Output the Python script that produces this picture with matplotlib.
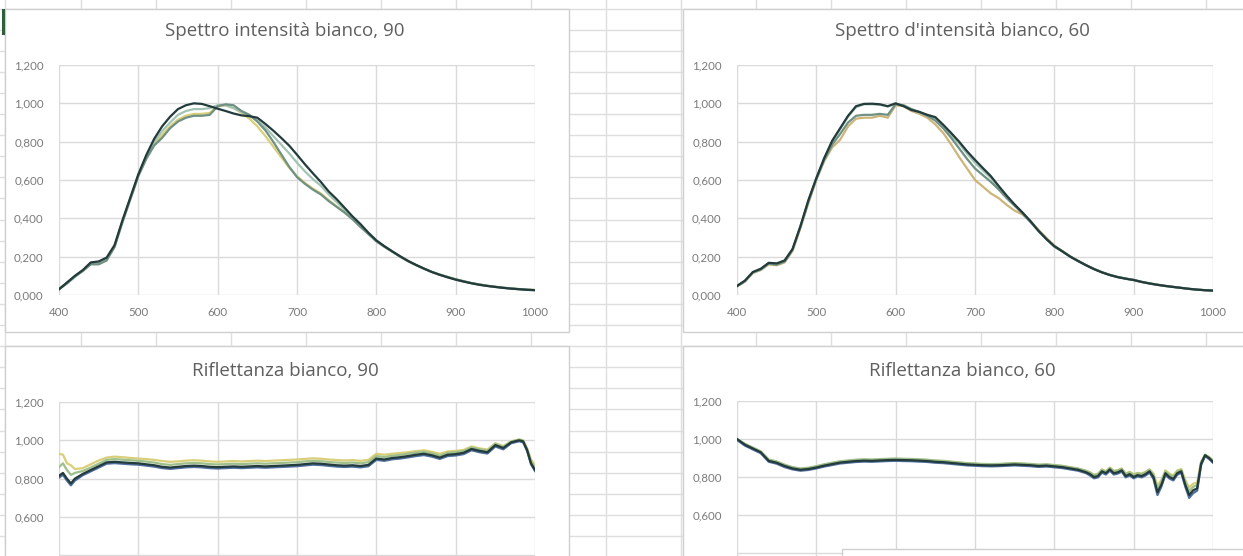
import matplotlib
matplotlib.use("Agg")
import matplotlib.pyplot as plt
from matplotlib.patches import Rectangle
from matplotlib.ticker import FuncFormatter

plt.rcParams['font.family'] = ['Lato', 'DejaVu Sans']

# ---------------- data ----------------
wl_int = list(range(400, 1001, 10))

# Spettro intensità bianco, 90
i90_dark = [0.030, 0.065, 0.100, 0.130, 0.170, 0.175, 0.195, 0.260, 0.390, 0.510,
            0.630, 0.730, 0.815, 0.880, 0.930, 0.970, 0.990, 1.000, 0.997, 0.985,
            0.972, 0.960, 0.947, 0.937, 0.933, 0.925, 0.893, 0.858, 0.820, 0.780,
            0.732, 0.682, 0.635, 0.590, 0.540, 0.500, 0.455, 0.410, 0.370, 0.325,
            0.285, 0.255, 0.228, 0.202, 0.178, 0.157, 0.138, 0.120, 0.105, 0.092,
            0.080, 0.070, 0.061, 0.053, 0.047, 0.042, 0.037, 0.033, 0.030, 0.027, 0.025]
i90_grey = [0.030, 0.060, 0.095, 0.125, 0.160, 0.160, 0.180, 0.250, 0.380, 0.500,
            0.620, 0.710, 0.780, 0.820, 0.870, 0.905, 0.925, 0.935, 0.935, 0.940,
            0.985, 0.995, 0.990, 0.960, 0.940, 0.905, 0.860, 0.800, 0.735, 0.670,
            0.615, 0.580, 0.550, 0.525, 0.490, 0.460, 0.430, 0.395, 0.355, 0.318,
            0.280, 0.252, 0.226, 0.200, 0.176, 0.156, 0.137, 0.120, 0.106, 0.094,
            0.082, 0.072, 0.062, 0.055, 0.048, 0.043, 0.038, 0.034, 0.031, 0.028, 0.026]
i90_yellow = [0.031, 0.062, 0.097, 0.127, 0.162, 0.163, 0.183, 0.252, 0.383, 0.503,
              0.622, 0.715, 0.790, 0.835, 0.880, 0.915, 0.935, 0.945, 0.945, 0.950,
              0.985, 0.990, 0.975, 0.950, 0.920, 0.880, 0.830, 0.775, 0.720, 0.665,
              0.620, 0.585, 0.555, 0.530, 0.495, 0.462, 0.432, 0.397, 0.357, 0.320,
              0.282, 0.253, 0.227, 0.201, 0.177, 0.157, 0.138, 0.121, 0.107, 0.094,
              0.082, 0.072, 0.062, 0.055, 0.048, 0.043, 0.038, 0.034, 0.031, 0.028, 0.026]
i90_teal = [0.031, 0.063, 0.098, 0.128, 0.165, 0.168, 0.188, 0.255, 0.385, 0.505,
            0.625, 0.720, 0.800, 0.855, 0.900, 0.940, 0.960, 0.970, 0.970, 0.975,
            0.990, 0.990, 0.975, 0.955, 0.935, 0.910, 0.875, 0.830, 0.785, 0.740,
            0.690, 0.645, 0.605, 0.570, 0.525, 0.485, 0.445, 0.402, 0.362, 0.322,
            0.283, 0.254, 0.227, 0.201, 0.177, 0.157, 0.138, 0.120, 0.106, 0.093,
            0.081, 0.071, 0.062, 0.054, 0.048, 0.042, 0.038, 0.034, 0.030, 0.027, 0.025]

# Spettro d'intensità bianco, 60
i60_dark = [0.047, 0.075, 0.120, 0.137, 0.168, 0.165, 0.180, 0.240, 0.360, 0.495,
            0.610, 0.715, 0.805, 0.870, 0.935, 0.985, 0.997, 0.998, 0.995, 0.985,
            1.000, 0.985, 0.965, 0.955, 0.940, 0.928, 0.888, 0.845, 0.800, 0.750,
            0.705, 0.662, 0.620, 0.568, 0.518, 0.472, 0.430, 0.385, 0.335, 0.292,
            0.255, 0.228, 0.200, 0.177, 0.155, 0.135, 0.118, 0.104, 0.093, 0.085,
            0.078, 0.068, 0.060, 0.053, 0.047, 0.042, 0.037, 0.032, 0.028, 0.025, 0.023]
i60_yellow = [0.045, 0.070, 0.115, 0.130, 0.160, 0.155, 0.170, 0.230, 0.350, 0.480,
              0.600, 0.700, 0.770, 0.810, 0.880, 0.920, 0.925, 0.925, 0.935, 0.925,
              0.990, 0.985, 0.960, 0.945, 0.925, 0.890, 0.845, 0.785, 0.720, 0.660,
              0.600, 0.565, 0.530, 0.505, 0.470, 0.440, 0.420, 0.385, 0.340, 0.298,
              0.258, 0.230, 0.202, 0.178, 0.156, 0.136, 0.119, 0.105, 0.094, 0.085,
              0.078, 0.068, 0.060, 0.053, 0.047, 0.042, 0.037, 0.032, 0.028, 0.025, 0.023]
i60_grey = [0.046, 0.072, 0.117, 0.133, 0.163, 0.158, 0.174, 0.235, 0.355, 0.487,
            0.605, 0.705, 0.785, 0.840, 0.900, 0.935, 0.940, 0.940, 0.945, 0.940,
            0.995, 0.990, 0.970, 0.955, 0.935, 0.910, 0.870, 0.820, 0.765, 0.710,
            0.660, 0.625, 0.590, 0.550, 0.505, 0.465, 0.425, 0.380, 0.335, 0.292,
            0.252, 0.228, 0.201, 0.178, 0.156, 0.136, 0.119, 0.105, 0.094, 0.086,
            0.079, 0.069, 0.061, 0.054, 0.048, 0.042, 0.037, 0.032, 0.028, 0.025, 0.023]
i60_teal = [0.047, 0.074, 0.119, 0.135, 0.166, 0.162, 0.177, 0.238, 0.358, 0.492,
            0.608, 0.712, 0.800, 0.865, 0.930, 0.980, 0.995, 0.995, 0.993, 0.983,
            0.998, 0.988, 0.968, 0.952, 0.935, 0.920, 0.880, 0.835, 0.790, 0.738,
            0.690, 0.650, 0.610, 0.560, 0.512, 0.468, 0.427, 0.383, 0.334, 0.291,
            0.254, 0.227, 0.200, 0.177, 0.155, 0.135, 0.118, 0.104, 0.093, 0.085,
            0.078, 0.068, 0.060, 0.053, 0.047, 0.042, 0.037, 0.032, 0.028, 0.025, 0.023]

# Riflettanza bianco, 90
wl_r90 = [400, 405, 410, 415] + list(range(420, 981, 10)) + [985, 990, 995, 1000]
r90_dark = [0.815, 0.830, 0.800, 0.775, 0.800, 0.825, 0.845, 0.865, 0.885, 0.888,
            0.885, 0.882, 0.880, 0.875, 0.870, 0.862, 0.858, 0.862, 0.866, 0.868,
            0.866, 0.862, 0.860, 0.862, 0.864, 0.862, 0.864, 0.866, 0.864, 0.866,
            0.868, 0.870, 0.872, 0.876, 0.880, 0.878, 0.874, 0.870, 0.868, 0.870,
            0.866, 0.872, 0.905, 0.900, 0.908, 0.912, 0.918, 0.925, 0.930, 0.922,
            0.910, 0.925, 0.928, 0.935, 0.955, 0.945, 0.938, 0.975, 0.960, 0.990,
            1.000, 0.995, 0.950, 0.880, 0.845]
r90_blue = [0.805, 0.820, 0.790, 0.765, 0.790, 0.818, 0.838, 0.858, 0.878, 0.881,
            0.878, 0.875, 0.873, 0.868, 0.863, 0.855, 0.851, 0.855, 0.859, 0.861,
            0.859, 0.855, 0.853, 0.855, 0.857, 0.855, 0.857, 0.859, 0.857, 0.859,
            0.861, 0.863, 0.865, 0.869, 0.873, 0.871, 0.867, 0.863, 0.861, 0.863,
            0.859, 0.865, 0.898, 0.893, 0.901, 0.905, 0.911, 0.918, 0.923, 0.915,
            0.903, 0.918, 0.921, 0.928, 0.948, 0.938, 0.931, 0.968, 0.953, 0.985,
            0.995, 0.990, 0.945, 0.875, 0.840]
r90_green = [0.860, 0.880, 0.845, 0.820, 0.830, 0.840, 0.858, 0.878, 0.898, 0.902,
             0.899, 0.896, 0.893, 0.889, 0.884, 0.876, 0.872, 0.876, 0.880, 0.882,
             0.880, 0.876, 0.874, 0.876, 0.878, 0.876, 0.878, 0.880, 0.878, 0.880,
             0.882, 0.884, 0.886, 0.890, 0.893, 0.891, 0.887, 0.884, 0.882, 0.884,
             0.880, 0.886, 0.918, 0.913, 0.920, 0.924, 0.930, 0.936, 0.940, 0.932,
             0.920, 0.935, 0.938, 0.944, 0.963, 0.953, 0.946, 0.982, 0.966, 0.993,
             1.003, 0.998, 0.955, 0.890, 0.858]
r90_yellow = [0.930, 0.925, 0.880, 0.870, 0.850, 0.855, 0.875, 0.895, 0.910, 0.915,
              0.912, 0.908, 0.905, 0.902, 0.898, 0.892, 0.888, 0.890, 0.894, 0.896,
              0.894, 0.890, 0.888, 0.890, 0.892, 0.890, 0.892, 0.894, 0.892, 0.894,
              0.896, 0.898, 0.900, 0.903, 0.906, 0.904, 0.900, 0.897, 0.895, 0.897,
              0.893, 0.898, 0.930, 0.925, 0.930, 0.934, 0.938, 0.944, 0.948, 0.940,
              0.930, 0.942, 0.945, 0.950, 0.968, 0.958, 0.952, 0.985, 0.970, 0.995,
              1.005, 1.000, 0.960, 0.900, 0.870]

# Riflettanza bianco, 60
wl_r60 = list(range(400, 841, 10)) + list(range(845, 1001, 5))
r60_dark = [1.000, 0.970, 0.950, 0.930, 0.885, 0.875, 0.858, 0.845, 0.838, 0.842,
            0.850, 0.860, 0.868, 0.876, 0.880, 0.884, 0.886, 0.885, 0.887, 0.889,
            0.890, 0.889, 0.888, 0.886, 0.884, 0.880, 0.878, 0.874, 0.870, 0.866,
            0.864, 0.862, 0.861, 0.862, 0.864, 0.866, 0.864, 0.862, 0.858, 0.860,
            0.856, 0.852, 0.845, 0.838, 0.825,
            0.815, 0.800, 0.805, 0.830, 0.820, 0.840, 0.820, 0.825, 0.835, 0.805,
            0.815, 0.800, 0.810, 0.805, 0.815, 0.830, 0.800, 0.720, 0.760, 0.820,
            0.800, 0.790, 0.820, 0.830, 0.760, 0.705, 0.730, 0.740, 0.870, 0.915,
            0.900, 0.880]
r60_blue = [0.995, 0.965, 0.945, 0.925, 0.880, 0.870, 0.852, 0.840, 0.833, 0.837,
            0.845, 0.855, 0.863, 0.871, 0.875, 0.879, 0.881, 0.880, 0.882, 0.884,
            0.885, 0.884, 0.883, 0.881, 0.879, 0.875, 0.873, 0.869, 0.865, 0.861,
            0.859, 0.857, 0.856, 0.857, 0.859, 0.861, 0.859, 0.857, 0.853, 0.855,
            0.851, 0.847, 0.840, 0.833, 0.820,
            0.808, 0.793, 0.798, 0.823, 0.813, 0.833, 0.813, 0.818, 0.828, 0.798,
            0.808, 0.793, 0.803, 0.798, 0.808, 0.823, 0.790, 0.705, 0.750, 0.812,
            0.792, 0.782, 0.812, 0.822, 0.750, 0.690, 0.715, 0.728, 0.862, 0.910,
            0.895, 0.875]
r60_green = [1.000, 0.975, 0.955, 0.935, 0.892, 0.882, 0.865, 0.852, 0.845, 0.849,
             0.857, 0.867, 0.875, 0.883, 0.887, 0.891, 0.893, 0.892, 0.894, 0.896,
             0.897, 0.896, 0.895, 0.893, 0.891, 0.887, 0.885, 0.881, 0.877, 0.873,
             0.871, 0.869, 0.868, 0.869, 0.871, 0.873, 0.871, 0.869, 0.865, 0.867,
             0.863, 0.859, 0.852, 0.845, 0.833,
             0.823, 0.810, 0.815, 0.838, 0.828, 0.848, 0.830, 0.835, 0.843, 0.815,
             0.825, 0.810, 0.820, 0.815, 0.825, 0.838, 0.812, 0.740, 0.775, 0.830,
             0.812, 0.802, 0.830, 0.838, 0.775, 0.725, 0.748, 0.758, 0.878, 0.918,
             0.905, 0.885]
r60_yellow = [0.995, 0.972, 0.952, 0.932, 0.890, 0.880, 0.863, 0.850, 0.843, 0.847,
              0.855, 0.865, 0.873, 0.881, 0.885, 0.889, 0.891, 0.890, 0.892, 0.894,
              0.895, 0.894, 0.893, 0.891, 0.889, 0.885, 0.883, 0.879, 0.875, 0.871,
              0.869, 0.867, 0.866, 0.867, 0.869, 0.871, 0.869, 0.867, 0.863, 0.865,
              0.861, 0.857, 0.850, 0.843, 0.832,
              0.825, 0.812, 0.818, 0.840, 0.830, 0.850, 0.832, 0.836, 0.845, 0.818,
              0.828, 0.815, 0.822, 0.818, 0.828, 0.840, 0.818, 0.755, 0.785, 0.835,
              0.818, 0.808, 0.835, 0.842, 0.785, 0.745, 0.765, 0.770, 0.880, 0.915,
              0.905, 0.888]

y_ticks = [0.0, 0.2, 0.4, 0.6, 0.8, 1.0, 1.2]
y_ticks_visible_bottom = [0.6, 0.8, 1.0, 1.2]
x_ticks = [400, 500, 600, 700, 800, 900, 1000]
titles = ["Spettro intensità bianco, 90", "Spettro d'intensità bianco, 60",
          "Riflettanza bianco, 90", "Riflettanza bianco, 60"]

# ---------------- styling ----------------
W, H = 1243, 556
C_DARK = "#243b3c"
C_GREY = "#6f9083"
C_YELLOW = "#d9cf78"
C_TEAL = "#a3c4b4"
C_BLUE = "#4f6f9e"
C_GREEN = "#9fbf8a"
GRID = "#dadada"
TXT = "#7a7a7a"
SHEET = "#dedede"

fig = plt.figure(figsize=(W / 100, H / 100), dpi=100)
fig.patch.set_facecolor("white")

# background spreadsheet layer in pixel coordinates
bg = fig.add_axes([0, 0, 1, 1])
bg.set_xlim(0, W)
bg.set_ylim(H, 0)
bg.axis("off")
for k in range(27):
    yy = 8.5 + 21.1 * k
    bg.plot([0, W], [yy, yy], color=SHEET, lw=1.0, zorder=1)
for xx in [5] + list(range(81, W, 75)):
    bg.plot([xx, xx], [0, H], color=SHEET, lw=1.0, zorder=1)
bg.plot([3, 3], [10, 33], color="#2f5e3a", lw=2.2, zorder=3)

# chart boxes
boxes = [(5, 9, 569, 332), (683, 9, W + 5, 332), (5, 346, 569, H + 5), (683, 346, W + 5, H + 5)]
for (x0, y0, x1, y1) in boxes:
    bg.add_patch(Rectangle((x0, y0), x1 - x0, y1 - y0, facecolor="white",
                           edgecolor="#cfcfcf", lw=1.0, zorder=2))


def px_axes(x0, ytop, x1, ybot):
    return fig.add_axes([x0 / W, 1 - ybot / H, (x1 - x0) / W, (ybot - ytop) / H])


fmt = FuncFormatter(lambda v, p: f"{v:.3f}".replace(".", ","))


def style(ax, bottom_panel):
    ax.set_facecolor("none")
    ax.set_xlim(400, 1000)
    ax.set_ylim(0, 1.2)
    ax.set_xticks(x_ticks)
    ax.set_yticks(y_ticks)
    ax.yaxis.set_major_formatter(fmt)
    ax.grid(True, color=GRID, lw=1.0)
    ax.set_axisbelow(True)
    for s in ax.spines.values():
        s.set_visible(False)
    ax.tick_params(length=0, labelsize=8.3, labelcolor=TXT, pad=11)
    ax.tick_params(axis="x", pad=9)
    if bottom_panel:
        # only the upper part of these charts is visible in the screenshot
        ax.tick_params(axis="x", labelbottom=False)
        for lbl, v in zip(ax.get_yticklabels(), y_ticks):
            if v not in y_ticks_visible_bottom:
                lbl.set_visible(False)


panels = [
    (px_axes(59, 65, 535, 295), wl_int, False,
     [(i90_yellow, C_YELLOW), (i90_teal, C_TEAL), (i90_grey, C_GREY), (i90_dark, C_DARK)]),
    (px_axes(737, 65, 1213, 295), wl_int, False,
     [(i60_yellow, "#cdb57a"), (i60_teal, C_TEAL), (i60_grey, C_GREY), (i60_dark, C_DARK)]),
    (px_axes(59, 402, 535, 632), wl_r90, True,
     [(r90_yellow, C_YELLOW), (r90_green, C_GREEN), (r90_blue, C_BLUE), (r90_dark, C_DARK)]),
    (px_axes(737, 401, 1213, 629), wl_r60, True,
     [(r60_yellow, C_YELLOW), (r60_green, C_GREEN), (r60_blue, C_BLUE), (r60_dark, C_DARK)]),
]
for ax, wl, bottom_panel, series in panels:
    style(ax, bottom_panel)
    for vals, col in series:
        ax.plot(wl, vals, color=col, lw=1.6, solid_joinstyle="round")

# titles
for (cx, cy), t in zip([(285, 31), (962, 31), (285, 371), (962, 371)], titles):
    fig.text(cx / W, 1 - cy / H, t, ha="center", va="center", fontsize=13.5,
             color="#5f5f5f", family=["Open Sans", "DejaVu Sans"])

# overlay covering the bottom-right corner
ov = fig.add_axes([0, 0, 1, 1])
ov.set_xlim(0, W)
ov.set_ylim(H, 0)
ov.axis("off")
ov.set_facecolor("none")
ov.add_patch(Rectangle((842, 549), W - 842 + 5, 10, facecolor="white", edgecolor="#cfcfcf", lw=1.0))

fig.savefig("out.png", dpi=100)
